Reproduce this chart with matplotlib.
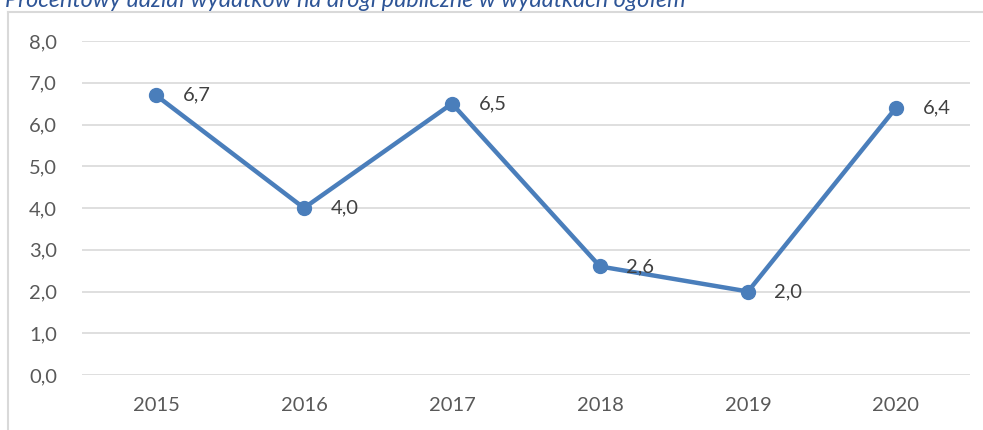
import matplotlib
matplotlib.use('Agg')
from matplotlib import pyplot as plt
from matplotlib.lines import Line2D

years = ['2015', '2016', '2017', '2018', '2019', '2020']
share = [6.7, 4.0, 6.5, 2.6, 2.0, 6.4]
yticks = [0, 1, 2, 3, 4, 5, 6, 7, 8]
title = 'Procentowy udział wydatków na drogi publiczne w wydatkach ogółem'

plt.rcParams['font.family'] = ['Lato', 'DejaVu Sans']

W, H = 983, 430
fig = plt.figure(figsize=(W / 100, H / 100), dpi=100)
ax = fig.add_axes([82 / W, 1 - 375 / H, (970 - 82) / W, (375 - 41) / H])

x = list(range(len(years)))
ax.plot(x, share, color='#4A7EBB', lw=3.2, marker='o', ms=10,
        solid_capstyle='round', zorder=3)
for xi, v in zip(x, share):
    ax.annotate('{:.1f}'.format(v).replace('.', ','), (xi, v),
                xytext=(19, 0), textcoords='offset points',
                ha='left', va='center', fontsize=14.5, color='#404040')

ax.set_xlim(-0.5, len(years) - 0.5)
ax.set_ylim(0, 8)
ax.set_xticks(x)
ax.set_xticklabels(years)
ax.set_yticks(yticks)
ax.set_yticklabels(['{:.1f}'.format(t).replace('.', ',') for t in yticks])
ax.tick_params(length=0, labelsize=14.5, colors='#595959')
ax.tick_params(axis='x', pad=16)
ax.tick_params(axis='y', pad=18)
ax.yaxis.grid(True, color='#D9D9D9', lw=1.2)
ax.set_axisbelow(True)
for s in ax.spines.values():
    s.set_visible(False)

# chart border (top and left edges only, rest falls outside)
fig.add_artist(Line2D([8 / W, 1], [1 - 12 / H, 1 - 12 / H], color='#D9D9D9', lw=1.5))
fig.add_artist(Line2D([8 / W, 8 / W], [0, 1 - 12 / H], color='#D9D9D9', lw=1.5))

# caption sits above the chart box, partly past the top edge
fig.text(5 / W, 1 - 7 / H, title, fontsize=16.8, style='italic',
         color='#2E5597', ha='left', va='baseline')

fig.savefig('out.png', dpi=100)
